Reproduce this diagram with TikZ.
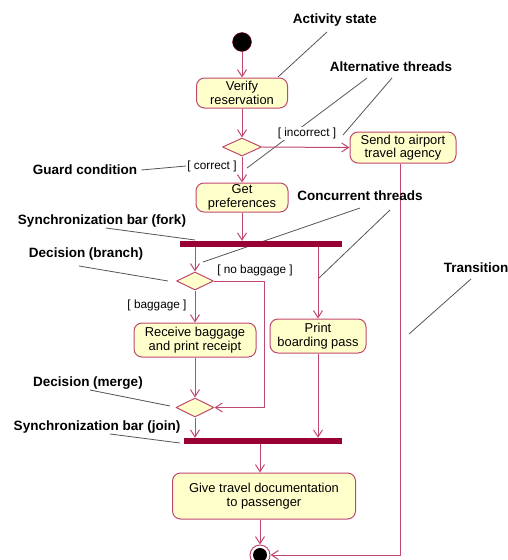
\documentclass[tikz,border=0pt]{standalone}
\usepackage{fontspec}
\setmainfont{Liberation Sans}
\usetikzlibrary{shapes.geometric,arrows.meta,backgrounds}
\definecolor{flowred}{RGB}{192,72,112}
\definecolor{statefill}{RGB}{255,255,204}
\definecolor{barred}{RGB}{153,0,51}
\definecolor{notegray}{RGB}{85,85,85}
\begin{document}
\begin{tikzpicture}[x=1pt,y=-1pt,line join=round,>={Straight Barb[length=7pt,width=9pt]}]
	\tikzset{state/.style={draw=flowred,fill=statefill,line width=1pt,rounded corners=8pt,align=center,inner sep=1pt,font=\fontsize{12.9}{13.5}\selectfont},
		choice/.style={diamond,draw=flowred,fill=statefill,line width=1pt,inner sep=0pt},
		syncbar/.style={fill=barred,inner sep=0pt,minimum height=6pt},
		flow/.style={draw=flowred,line width=1pt,->},
		guard/.style={font=\fontsize{11.8}{13}\selectfont,fill=white,inner sep=1pt},
		note/.style={font=\fontsize{13.5}{15}\selectfont\bfseries,inner sep=0pt},
		leader/.style={draw=notegray,line width=0.8pt}}
	\useasboundingbox (0,0) rectangle (508,560);
	\node[circle,fill=black,draw=barred,minimum size=19pt,inner sep=0pt] (start) at (242,42) {};
	\node[state,minimum width=91pt,minimum height=30pt] (verify) at (242,93) {Verify\\reservation};
	\node[choice,minimum width=39pt,minimum height=18pt] (check) at (242,147) {};
	\node[state,minimum width=106pt,minimum height=31pt] (agency) at (403,147.5) {Send to airport\\travel agency};
	\node[state,minimum width=92pt,minimum height=29pt] (prefs) at (242,197.5) {Get\\preferences};
	\node[syncbar,minimum width=162pt] (fork) at (261,244) {};
	\node[choice,minimum width=37pt,minimum height=18pt] (branch) at (195,281) {};
	\node[state,minimum width=122pt,minimum height=34pt] (baggage) at (195,340) {Receive baggage\\and print receipt};
	\node[state,minimum width=96pt,minimum height=34pt] (boarding) at (318,336) {Print\\boarding pass};
	\node[choice,minimum width=38pt,minimum height=19pt] (merge) at (195,407.5) {};
	\node[syncbar,minimum width=158pt] (join) at (263,441) {};
	\node[state,minimum width=183pt,minimum height=46pt] (givedocs) at (264,496) {Give travel documentation\\to passenger};
	\node[circle,draw=flowred,line width=1pt,minimum size=20pt,inner sep=0pt] (stop) at (260,555) {};
	\fill[black] (stop.center) circle[radius=7pt];
	% guards
	\node[guard] (incorrect) at (307,133) {[ incorrect ]};
	\node[guard] (correct) at (212,166) {[ correct ]};
	\node[guard] (nobag) at (255,270) {[ no baggage ]};
	\node[guard] (withbag) at (157,305) {[ baggage ]};
	% flows
	\draw[flow] (start) -- (verify);
	\draw[flow] (verify) -- (check);
	\draw[flow] (check.east) -- (agency.west);
	\draw[flow] (check) -- (prefs);
	\draw[flow] (prefs) -- (prefs.south |- fork.north);
	\draw[flow] (branch.north |- fork.south) -- (branch);
	\draw[flow] (boarding.north |- fork.south) -- (boarding);
	\draw[flow] (branch) -- (baggage);
	\draw[flow] (branch.east) -- ++(50,0) |- (merge.east);
	\draw[flow] (baggage) -- (merge);
	\draw[flow] (merge) -- (merge.south |- join.north);
	\draw[flow] (boarding) -- (boarding.south |- join.north);
	\draw[flow] (stop.north |- join.south) -- (stop.north |- givedocs.north);
	\draw[flow] (stop.north |- givedocs.south) -- (stop);
	\draw[flow] ([xshift=-3pt]agency.south) |- (stop.east);
	% notes
	\node[note] (lblActivity) at (335,20) {Activity state};
	\node[note] (lblAlt) at (391,67) {Alternative threads};
	\node[note] (lblGuard) at (85,170) {Guard condition};
	\node[note] (lblConc) at (360,196) {Concurrent threads};
	\node[note] (lblFork) at (102,221) {Synchronization bar (fork)};
	\node[note] (lblBranch) at (86,254) {Decision (branch)};
	\node[note] (lblTrans) at (476,268) {Transition};
	\node[note] (lblMerge) at (88,383) {Decision (merge)};
	\node[note] (lblJoin) at (97,427) {Synchronization bar (join)};
	\coordinate (actA) at (327,32);   \coordinate (actB) at (278,77);
	\coordinate (altA) at (367,78);   \coordinate (altB) at (247,168);
	\coordinate (altC) at (392,78);   \coordinate (altD) at (343,135);
	\coordinate (forkA) at (106,228); \coordinate (forkB) at (195,240);
	\coordinate (concA) at (360,208); \coordinate (concB) at (203,262);
	\coordinate (concC) at (390,210); \coordinate (concD) at (319,278);
	\coordinate (brA) at (79,266);    \coordinate (brB) at (168,281);
	\coordinate (trA) at (471,279);   \coordinate (trB) at (409,334);
	\coordinate (mgA) at (90,390);    \coordinate (mgB) at (170,406);
	\coordinate (jnA) at (110,434);   \coordinate (jnB) at (180,443);
	\begin{pgfonlayer}{background}
		\draw[leader] (actA) -- (actB);
		\draw[leader] (altA) -- (altB);
		\draw[leader] (altC) -- (altD);
		\draw[leader] (lblGuard.east) ++(4,0) -- (correct.west);
		\draw[leader] (forkA) -- (forkB);
		\draw[leader] (concA) -- (concB);
		\draw[leader] (concC) -- (concD);
		\draw[leader] (brA) -- (brB);
		\draw[leader] (trA) -- (trB);
		\draw[leader] (mgA) -- (mgB);
		\draw[leader] (jnA) -- (jnB);
	\end{pgfonlayer}
\end{tikzpicture}
\end{document}
